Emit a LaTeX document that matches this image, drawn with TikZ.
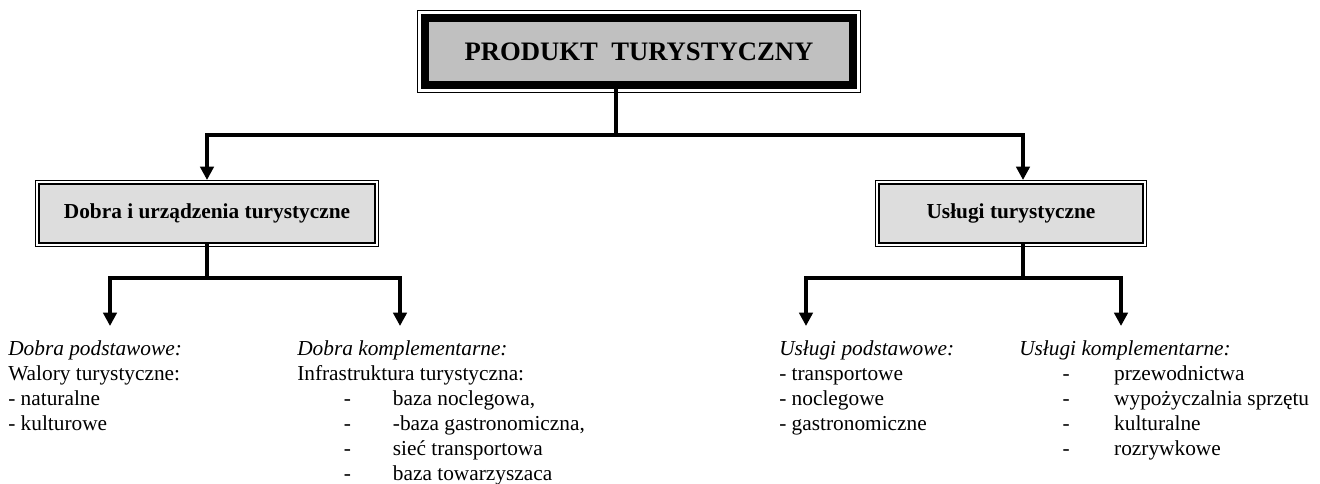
\documentclass[tikz,border=0pt]{standalone}
\usepackage{fontspec}
\setmainfont{Liberation Serif}
\usetikzlibrary{arrows.meta, positioning}

\definecolor{titlegray}{HTML}{C0C0C0}
\definecolor{boxgray}{HTML}{DDDDDD}
\newcommand{\punkt}[3]{\hspace*{#1pt}\makebox[#2pt][l]{-}#3}

\begin{document}
\begin{tikzpicture}[x=0.75pt, y=-0.75pt,
    title box/.style = {draw, line width=6pt, fill=titlegray,
        minimum width=321pt, minimum height=50.25pt, inner sep=0pt,
        font=\fontsize{20}{24}\selectfont\bfseries},
    group box/.style = {draw, line width=1.5pt, fill=boxgray,
        minimum height=44.25pt, inner sep=0pt,
        font=\fontsize{16}{18.75}\selectfont\bfseries},
    frame/.style = {line width=0.75pt},
    link/.style = {line width=2.6pt},
    branch/.style = {link, -{Triangle[length=10pt, width=10pt]}},
    list/.style = {anchor=north west, align=left, inner sep=0pt,
        font=\fontsize{16}{18.75}\selectfont}]
    \useasboundingbox (0,0) rectangle (1320,484);

    \node (produkt) [title box] at (639,51.5) {PRODUKT\ \ TURYSTYCZNY};
    \node (dobra) [group box, minimum width=252pt] at (207,213.5) {Dobra i urządzenia turystyczne};
    \node (uslugi) [group box, minimum width=198pt] at (1011,213.5) {Usługi turystyczne};

    % outer thin frames
    \draw [frame] ([shift={(-3.5,-3.5)}]produkt.north west) rectangle ([shift={(3.5,3.5)}]produkt.south east);
    \foreach \n in {dobra, uslugi}
        \draw [frame] ([shift={(-2.5,-2.5)}]\n.north west) rectangle ([shift={(2.5,2.5)}]\n.south east);

    \coordinate (top fork) at (616,135);
    \coordinate (dobra fork) at (207,278);
    \coordinate (uslugi fork) at (1023,278);
    \coordinate (dp) at (110,326);
    \coordinate (dk) at (400,326);
    \coordinate (up) at (806,326);
    \coordinate (uk) at (1121,326);

    \node (dobra podst) [list] at (8,340)
        {\textit{Dobra podstawowe:}\\Walory turystyczne:\\- naturalne\\- kulturowe};
    \node (dobra kompl) [list] at (297,340)
        {\textit{Dobra komplementarne:}\\Infrastruktura turystyczna:\\
         \punkt{35}{36.75}{baza noclegowa,}\\
         \punkt{35}{36.75}{-baza gastronomiczna,}\\
         \punkt{35}{36.75}{sieć transportowa}\\
         \punkt{35}{36.75}{baza towarzyszaca}};
    \node (uslugi podst) [list] at (779,340)
        {\textit{Usługi podstawowe:}\\- transportowe\\- noclegowe\\- gastronomiczne};
    \node (uslugi kompl) [list] at (1019,340)
        {\textit{Usługi komplementarne:}\\
         \punkt{32.6}{38.6}{przewodnictwa}\\
         \punkt{32.6}{38.6}{wypożyczalnia sprzętu}\\
         \punkt{32.6}{38.6}{kulturalne}\\
         \punkt{32.6}{38.6}{rozrywkowe}};

    \draw [link] (produkt.south -| top fork) -- (top fork);
    \draw [branch] (top fork) -| ([shift={(0,-3)}]dobra.north);
    \draw [branch] (top fork) -| ([shift={(12,-3)}]uslugi.north);
    \draw [link] (dobra.south) -- (dobra fork);
    \draw [branch] (dobra fork) -| (dp);
    \draw [branch] (dobra fork) -| (dk);
    \draw [link] (uslugi.south -| uslugi fork) -- (uslugi fork);
    \draw [branch] (uslugi fork) -| (up);
    \draw [branch] (uslugi fork) -| (uk);
\end{tikzpicture}
\end{document}
